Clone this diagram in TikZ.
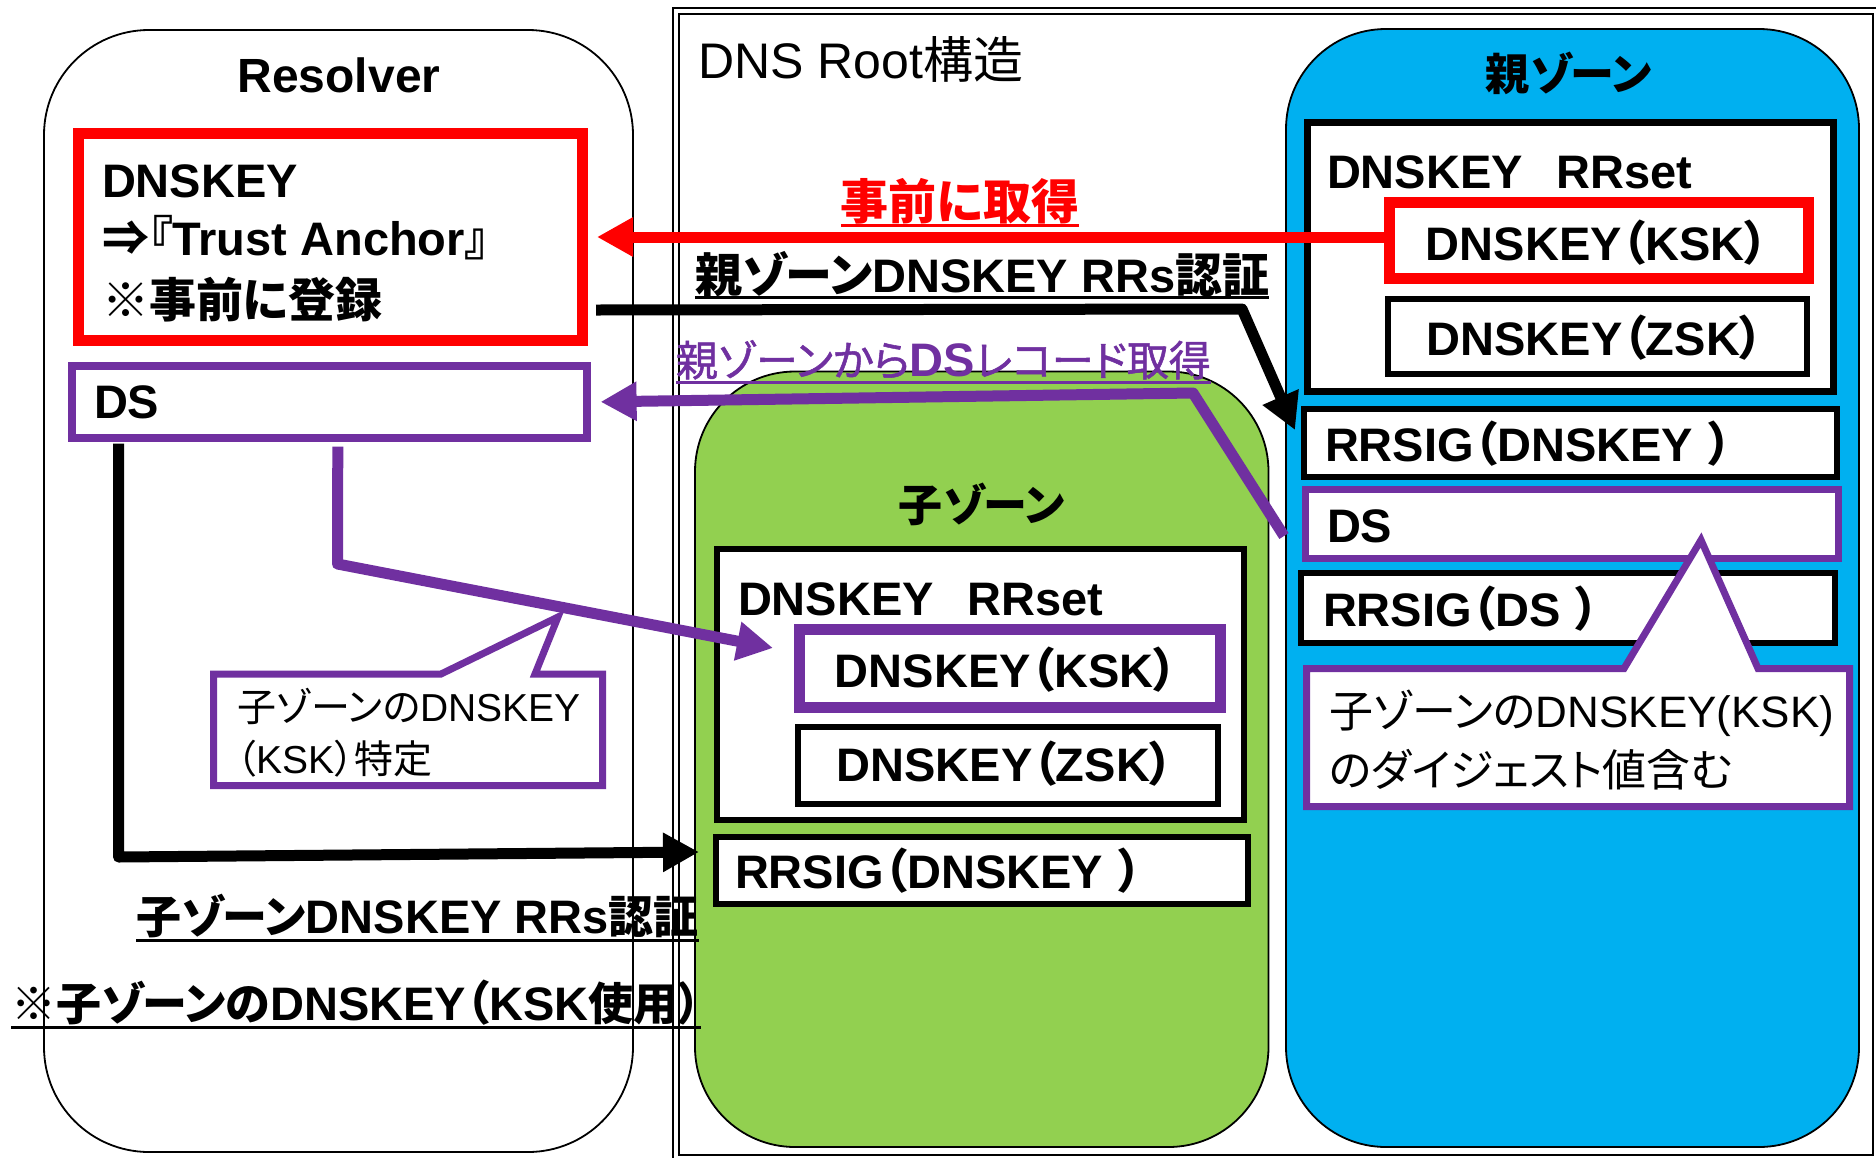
\documentclass[tikz,border=0pt]{standalone}
\usepackage{fontspec}
\setmainfont{Liberation Sans}
\newfontfamily\jp[RawFeature=+palt]{Noto Sans CJK JP}
\newfontfamily\jpf{Noto Sans CJK JP}
\newcommand\J[1]{{\jp #1}}
% closing full-width bracket with its natural advance
\newcommand\Jc{{\jpf ）}}
% medium-weight Japanese run at a given size
\newcommand\Jm[2]{{\jp\fontsize{#1}{#1}\mdseries\selectfont\addfontfeatures{FakeBold=1.2}#2}}
\usetikzlibrary{arrows.meta}
\definecolor{dpurple}{HTML}{7030A0}
\definecolor{zblue}{HTML}{00B0F0}
\definecolor{zgreen}{HTML}{92D050}
\begin{document}
\begin{tikzpicture}[x=1pt, y=-1pt,
  every node/.style={inner sep=0pt, outer sep=0pt},
  zone/.style={draw=black, line width=1.8pt, rounded corners=#1},
  kbox/.style={draw=black, fill=white, line width=6pt, outer sep=3pt},
  redbox/.style={draw=red, fill=white, line width=11pt, outer sep=5.5pt},
  purbox/.style={draw=dpurple, fill=white, line width=#1, outer sep=#1/2},
  callout/.style={draw=dpurple, fill=white, line width=7pt},
  arr/.style={line width=11pt, line join=round, -{Triangle[length=36pt,width=37pt]}},
  ul/.style={line width=3pt},
  tb/.style={font=\fontsize{#1}{#1}\selectfont\bfseries},
  tr/.style={font=\fontsize{#1}{#1}\selectfont},
]
\fill[white] (0,0) rectangle (1876,1157);
\useasboundingbox (0,0) rectangle (1876,1157);

% containers
\node[zone=105pt, minimum width=589pt, minimum height=1122pt] (resolver) at (338.5,591) {};
\node[draw=black, line width=2pt, double=white, double distance=4pt,
      minimum width=1200pt, minimum height=1147pt] (root) at (1276.25,584) {};
\node[zone=100pt, fill=zgreen, minimum width=573.5pt, minimum height=775.5pt] (child) at (981.75,759.25) {};
\node[zone=100pt, fill=zblue, minimum width=573pt, minimum height=1118pt] (parent) at (1572.5,588) {};

% resolver records
\node[redbox, minimum width=504.5pt, minimum height=207pt] (ta) at (330.25,237) {};
\node[purbox=8pt, minimum width=514.6pt, minimum height=71.7pt] (rds) at (329.3,401.85) {};

% parent zone records
\node[kbox, line width=7pt, outer sep=3.5pt, minimum width=526pt, minimum height=269pt] (prr) at (1570.5,257) {};
\node[redbox, minimum width=419pt, minimum height=76pt] (pksk) at (1599,240.5) {};
\node[kbox, minimum width=419pt, minimum height=75pt] (pzsk) at (1597.5,336.5) {};
\node[kbox, minimum width=533pt, minimum height=68pt] (prs) at (1570.5,443) {};
\node[purbox=7pt, minimum width=533pt, minimum height=69pt] (pds) at (1572,524) {};
\node[kbox, minimum width=534pt, minimum height=70pt] (prsd) at (1568,608) {};

% child zone records
\node[kbox, minimum width=527pt, minimum height=271pt] (crr) at (980.1,684) {};
\node[purbox=11pt, minimum width=421pt, minimum height=78pt] (cksk) at (1009.5,668.5) {};
\node[kbox, minimum width=420pt, minimum height=76.5pt] (czsk) at (1007.6,765.25) {};
\node[kbox, minimum width=531.6pt, minimum height=67pt] (crs) at (981.8,870.5) {};

% titles
\node[tb=48, anchor=base] (tRes) at (339,92) {Resolver};
\node[tr=50, anchor=base west] (tRoot) at (698,78) {DNS Root\J{構造}};
\node[tb=44] (tPz) at (1569,73) {\J{親ゾーン}};
\node[tb=44] (tCz) at (982,504) {\J{子ゾーン}};

% record texts
\node[tb=47, anchor=base west] (ta1) at (102,197) {DNSKEY};
\node[tb=47, anchor=base west] (ta2) at (102,255) {\J{⇒『}Trust Anchor\J{』}};
\node[tb=47, anchor=base west] (ta3) at (102,317) {\J{※事前に登録}};
\node[tb=47, anchor=base west] (tRds) at (94,418) {DS};

\node[tb=47, anchor=base west] (tPrr) at (1327,188) {DNSKEY\hspace{34pt}RRset};
\node[tb=47, anchor=base] (tPksk) at (1597,260) {DNSKEY\J{（}KSK\J{）}};
\node[tb=47, anchor=base] (tPzsk) at (1595,355) {DNSKEY\J{（}ZSK\J{）}};
\node[tb=47, anchor=base west] (tPrs) at (1325,461) {RRSIG\J{（}DNSKEY \Jc};
\node[tb=47, anchor=base west] (tPds) at (1327,542) {DS};
\node[tb=47, anchor=base west] (tPrsd) at (1323,626) {RRSIG\J{（}DS \Jc};

\node[tb=47, anchor=base west] (tCrr) at (738,615) {DNSKEY\hspace{34pt}RRset};
\node[tb=47, anchor=base] (tCksk) at (1006,687) {DNSKEY\J{（}KSK\J{）}};
\node[tb=47, anchor=base] (tCzsk) at (1005,781) {DNSKEY\J{（}ZSK\J{）}};
\node[tb=47, anchor=base west] (tCrs) at (735,888) {RRSIG\J{（}DNSKEY \Jc};

% flows
\coordinate (b1) at (1242,309);
\coordinate (b2) at (1193,393);
\coordinate (b3) at (337.5,564);
\coordinate (b4) at (118.5,857);
\draw[arr, red] (ta.east -| pksk.west) -- ([xshift=9pt]ta.east);
\draw[arr] ([shift={(8pt,-73pt)}]ta.east) -- (b1) -- ([shift={(-6pt,13pt)}]prs.west);
\draw[arr, dpurple] ([shift={(-18pt,-12pt)}]pds.west) -- (b2) -- ([xshift=10pt]rds.east);
\draw[arr, dpurple] ([shift={(8.5pt,-5pt)}]rds.south) -- (b3) -- ([shift={(-20.5pt,20.5pt)}]cksk.west);
\draw[arr] ([shift={(-210.8pt,-2pt)}]rds.south) -- (b4) -- ([shift={(-14pt,18.5pt)}]crs.west);

% flow labels
\node[tb=48, red, anchor=base] (lRed) at (960,219) {\J{事前に取得}};
\node[tb=47, anchor=base west] (lBlk1) at (695,292) {\J{親ゾーン}DNSKEY RRs\J{認証}};
\node[tb=47, dpurple, anchor=base west] (lPur) at (676,376) {\Jm{42}{親ゾーンから}DS\Jm{42}{レコード取得}};
\node[tb=47, anchor=base west] (lBlk2) at (136,933) {\J{\fontsize{45}{45}\selectfont 子ゾーン}DNSKEY RRs\J{\fontsize{45}{45}\selectfont 認証}};
\node[tb=47, anchor=base west] (lNote) at (11,1020) {\J{\fontsize{45}{45}\selectfont ※子ゾーンの}DNSKEY\J{（}KSK\J{\fontsize{45}{45}\selectfont 使用）}};
\draw[ul, red] ([yshift=-6pt]lRed.base west) -- ([yshift=-6pt]lRed.base east);
\draw[ul] ([yshift=-5pt]lBlk1.base west) -- ([yshift=-5pt]lBlk1.base east);
\draw[ul, dpurple] ([yshift=-6pt]lPur.base west) -- ([yshift=-6pt]lPur.base east);
\draw[ul] ([yshift=-7pt]lBlk2.base west) -- ([yshift=-7pt]lBlk2.base east);
\draw[ul] ([yshift=-7pt]lNote.base west) -- ([yshift=-7pt]lNote.base east);

% callouts
\node[minimum width=389pt, minimum height=111.5pt] (c1) at (408,729.75) {};
\coordinate (c1l) at (441,674);
\coordinate (c1p) at (558,617);
\coordinate (c1r) at (535,674);
\draw[callout] (c1.north west) -- (c1l) -- (c1p) -- (c1r) -- (c1.north east)
  -- (c1.south east) -- (c1.south west) -- cycle;
\node[tr=39, anchor=base west] (c1a) at (237,721) {\J{子ゾーンの}DNSKEY};
\node[tr=39, anchor=base west] (c1b) at (237,773) {\J{（}KSK\J{）特定}};

\node[minimum width=543pt, minimum height=138pt] (c2) at (1578,737.5) {};
\coordinate (c2l) at (1624,668.5);
\coordinate (c2p) at (1701,540);
\coordinate (c2r) at (1758,668.5);
\draw[callout] (c2.north west) -- (c2l) -- (c2p) -- (c2r) -- (c2.north east)
  -- (c2.south east) -- (c2.south west) -- cycle;
\node[tr=44, anchor=base west] (c2a) at (1329,727) {\J{子ゾーンの}DNSKEY(KSK)};
\node[tr=44, anchor=base west] (c2b) at (1329,786) {\J{のダイジェスト値含む}};
\end{tikzpicture}
\end{document}
